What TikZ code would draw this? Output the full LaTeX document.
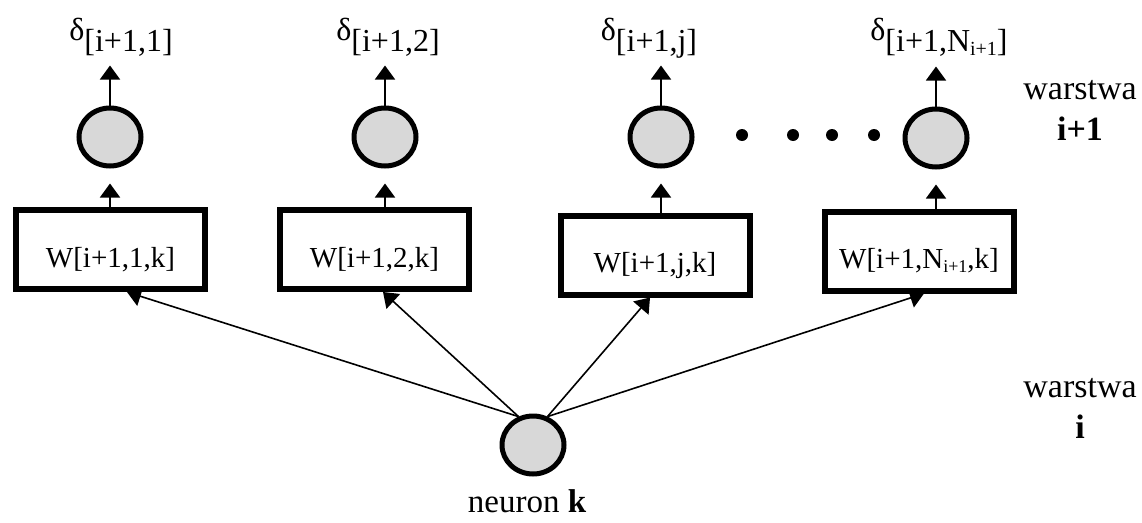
\documentclass[tikz,border=0pt]{standalone}
\usepackage{fontspec}
\setmainfont{Liberation Serif}
\usetikzlibrary{arrows.meta,shapes.geometric,calc}
\definecolor{cellgray}{HTML}{D8D8D8}
\begin{document}
\begin{tikzpicture}[x=1pt,y=-1pt,
  neuron/.style={ellipse,draw,line width=5pt,fill=cellgray,
    minimum width=62pt,minimum height=58pt,inner sep=0pt},
  weight/.style={draw,line width=6pt,minimum width=189pt,minimum height=79pt,
    inner sep=0pt,text height=35pt,text depth=0pt,
    font=\fontsize{29}{34}\selectfont},
  dlabel/.style={inner sep=0pt,anchor=base,font=\fontsize{32}{36}\selectfont},
  layer/.style={inner sep=0pt,align=center,anchor=base,font=\fontsize{34}{41}\selectfont},
  conn/.style={line width=1.6pt,-{Triangle[width=20pt,length=14pt]}},
  dot/.style={circle,fill=black,inner sep=0pt,minimum size=12pt}
]
\useasboundingbox (0,0) rectangle (1142,522);

% neurons of layer i+1
\node[neuron] (c1) at (110,137) {};
\node[neuron] (c2) at (385,137) {};
\node[neuron] (c3) at (661,137) {};
\node[neuron] (c4) at (936,138) {};

% ellipsis between neuron j and the last neuron
\node[dot] (e1) at (742,135) {};
\node[dot] (e2) at (793,135) {};
\node[dot] (e3) at (832,135) {};
\node[dot] (e4) at (874,135) {};

% weights
\node[weight] (b1) at (110.5,249.5) {W[i+1,1,k]};
\node[weight] (b2) at (374.5,249.5) {W[i+1,2,k]};
\node[weight] (b3) at (655,255) {W[i+1,j,k]};
\node[weight] (b4) at (919,251) {W[i+1,N\raisebox{-4pt}{\fontsize{18}{18}\selectfont i+1},k]};

% error signals
\node[dlabel] (d1) at (121,40) {δ\raisebox{-11pt}{[i+1,1]}};
\node[dlabel] (d2) at (388,40) {δ\raisebox{-11pt}{[i+1,2]}};
\node[dlabel] (d3) at (649,40) {δ\raisebox{-11pt}{[i+1,j]}};
\node[dlabel] (d4) at (939,40) {δ\raisebox{-11pt}{[i+1,N\raisebox{-4pt}{\fontsize{20}{20}\selectfont i+1}]}};

% neuron k of layer i
\node[neuron] (nk) at (533,445) {};
\node[inner sep=0pt,anchor=base,text depth=0pt,font=\fontsize{33}{40}\selectfont] (nklab) at (527,512) {neuron \textbf{k}};

% layer names (base anchor sits on the second line)
\node[layer] (l1) at (1080,140) {warstwa\\\textbf{i+1}};
\node[layer] (l0) at (1080,438) {warstwa\\\textbf{i}};

% outputs of layer i+1
\foreach \c in {c1,c2,c3,c4}
  \draw[conn] (\c.north) -- ($(\c.north)+(0,-40)$);

% weights feed the neurons
\foreach \b/\c in {b1/c1,b2/c2,b3/c3,b4/c4}
  \draw[conn] (\b.north -| \c) -- ($(\c.south)+(0,15)$);

% neuron k feeds every weight
\draw[conn] (nk.117) -- ($(b1.south)+(16.5,0)$);
\draw[conn] (nk.117) -- ($(b2.south)+(8.5,0)$);
\draw[conn] (nk.63) -- ($(b3.south)+(-5,0)$);
\draw[conn] (nk.63) -- ($(b4.south)+(5,0)$);
\end{tikzpicture}
\end{document}
